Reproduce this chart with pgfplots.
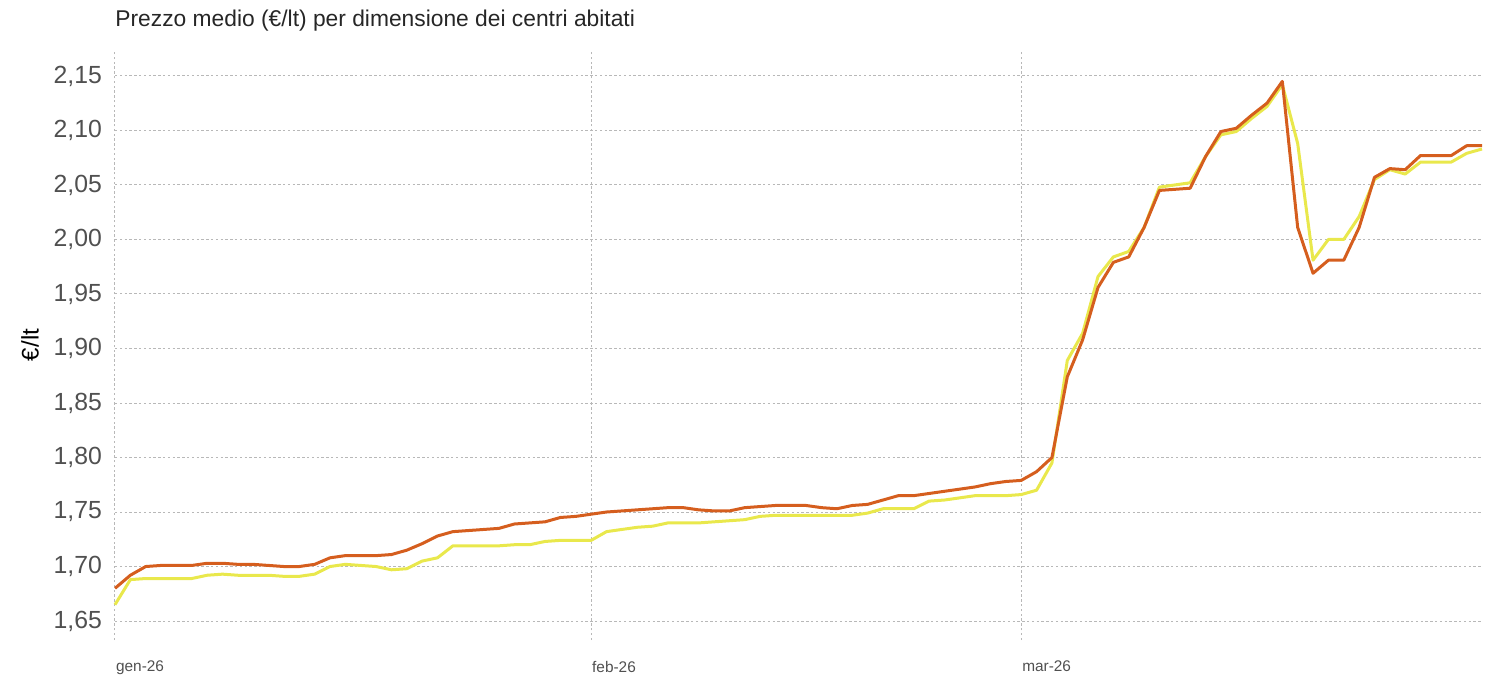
\documentclass[border=0pt]{standalone}
\usepackage{pgfplots}
\pgfplotsset{compat=1.18}
\usepackage{fontspec}
\setmainfont{Liberation Sans}
\definecolor{orangeS}{HTML}{D55E1E}
\definecolor{yellowS}{HTML}{E9E84C}
\definecolor{gridc}{HTML}{B8B8B8}
\definecolor{txt}{HTML}{505050}
\begin{document}
\begin{tikzpicture}
\begin{axis}[
  name=ax,
  scale only axis,
  width=683.5pt, height=295pt,
  xmin=0, xmax=89,
  ymin=1.6326, ymax=2.1738,
  axis line style={draw=none},
  major tick style={draw=none},
  xtick={0,31,59},
  xticklabels={gen-26,feb-26,mar-26},
  xticklabel style={anchor=north west, xshift=-3pt, yshift=-7pt, font=\fontsize{7.7}{9}\selectfont, text=txt},
  ytick={1.65,1.70,...,2.16},
  yticklabel style={font=\fontsize{12.4}{14}\selectfont, text=txt, xshift=-3pt},
  /pgf/number format/.cd, fixed, fixed zerofill, precision=2, use comma, assume math mode=true,
  /pgfplots/.cd,
  grid=major,
  major grid style={gridc, line width=0.5pt, dash pattern=on 1.2pt off 1.2pt},
  ylabel={€/lt},
  ylabel style={font=\fontsize{12}{14}\selectfont, text=black, yshift=0.5pt},
  clip=false,
]
\addplot[yellowS, line width=1.5pt, line join=round] coordinates {
(0,1.665)(1,1.688)(2,1.689)(3,1.689)(4,1.689)(5,1.689)(6,1.692)(7,1.693)(8,1.692)(9,1.692)
(10,1.692)(11,1.691)(12,1.691)(13,1.693)(14,1.700)(15,1.702)(16,1.701)(17,1.700)(18,1.697)(19,1.698)
(20,1.705)(21,1.708)(22,1.719)(23,1.719)(24,1.719)(25,1.719)(26,1.720)(27,1.720)(28,1.723)(29,1.724)
(30,1.724)(31,1.724)(32,1.732)(33,1.734)(34,1.736)(35,1.737)(36,1.740)(37,1.740)(38,1.740)(39,1.741)
(40,1.742)(41,1.743)(42,1.746)(43,1.747)(44,1.747)(45,1.747)(46,1.747)(47,1.747)(48,1.747)(49,1.749)
(50,1.753)(51,1.753)(52,1.753)(53,1.760)(54,1.761)(55,1.763)(56,1.765)(57,1.765)(58,1.765)(59,1.766)
(60,1.770)(61,1.795)(62,1.889)(63,1.914)(64,1.966)(65,1.984)(66,1.989)(67,2.011)(68,2.048)(69,2.050)
(70,2.052)(71,2.076)(72,2.096)(73,2.099)(74,2.111)(75,2.122)(76,2.142)(77,2.088)(78,1.981)(79,2.000)
(80,2.000)(81,2.021)(82,2.055)(83,2.064)(84,2.060)(85,2.071)(86,2.071)(87,2.071)(88,2.079)(89,2.083)
};
\addplot[orangeS, line width=1.5pt, line join=round] coordinates {
(0,1.680)(1,1.692)(2,1.700)(3,1.701)(4,1.701)(5,1.701)(6,1.703)(7,1.703)(8,1.702)(9,1.702)
(10,1.701)(11,1.700)(12,1.700)(13,1.702)(14,1.708)(15,1.710)(16,1.710)(17,1.710)(18,1.711)(19,1.715)
(20,1.721)(21,1.728)(22,1.732)(23,1.733)(24,1.734)(25,1.735)(26,1.739)(27,1.740)(28,1.741)(29,1.745)
(30,1.746)(31,1.748)(32,1.750)(33,1.751)(34,1.752)(35,1.753)(36,1.754)(37,1.754)(38,1.752)(39,1.751)
(40,1.751)(41,1.754)(42,1.755)(43,1.756)(44,1.756)(45,1.756)(46,1.754)(47,1.753)(48,1.756)(49,1.757)
(50,1.761)(51,1.765)(52,1.765)(53,1.767)(54,1.769)(55,1.771)(56,1.773)(57,1.776)(58,1.778)(59,1.779)
(60,1.787)(61,1.800)(62,1.874)(63,1.908)(64,1.956)(65,1.979)(66,1.984)(67,2.011)(68,2.045)(69,2.046)
(70,2.047)(71,2.076)(72,2.099)(73,2.102)(74,2.114)(75,2.125)(76,2.145)(77,2.011)(78,1.969)(79,1.981)
(80,1.981)(81,2.011)(82,2.057)(83,2.065)(84,2.064)(85,2.077)(86,2.077)(87,2.077)(88,2.086)(89,2.086)
};
\node[anchor=base west, font=\fontsize{11.4}{13}\selectfont, text=black!85, inner sep=0pt] at ([yshift=11.5pt]rel axis cs:0,1) {Prezzo medio (€/lt) per dimensione dei centri abitati};
\end{axis}
\path ([xshift=-57.5pt,yshift=-20pt]ax.south west) rectangle ([xshift=6pt,yshift=25pt]ax.north east);
\end{tikzpicture}
\end{document}
